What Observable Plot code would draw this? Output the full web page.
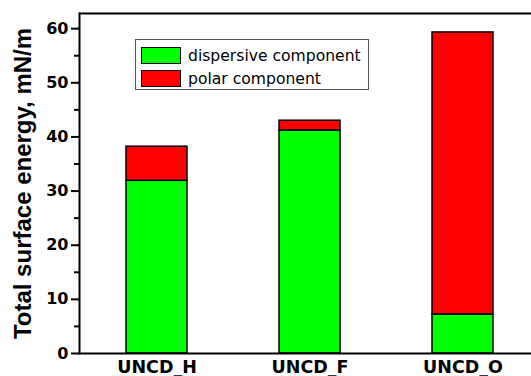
<!DOCTYPE html>
<html>
<head>
<meta charset="utf-8">
<script src="https://cdn.jsdelivr.net/npm/d3@7"></script>
<script src="https://cdn.jsdelivr.net/npm/@observablehq/plot@0.6"></script>
<style>
  html, body { margin: 0; padding: 0; background: #fff; overflow: hidden; }
  #wrap { position: relative; width: 531px; height: 376px; }
  #legend { position: absolute; left: 135px; top: 39px; width: 234px; height: 51px;
    border: 1px solid #555; box-sizing: border-box; background: #fff;
    font-family: "DejaVu Sans", sans-serif; font-size: 15.6px; color: #000; padding: 5px 0 0 5px; }
  .row { display: flex; align-items: center; height: 21px; margin-bottom: 2px; }
  .sw { width: 40px; height: 17px; box-sizing: border-box; border: 1.5px solid #000; margin-right: 7px; }
</style>
</head>
<body>
<div id="wrap"></div>
<script>
const categories = ["UNCD_H", "UNCD_F", "UNCD_O"];
const components = ["dispersive component", "polar component"];
const dispersive = [31.9, 41.2, 7.2];
const polar = [6.3, 1.8, 52.1];
const colors = ["#00ff00", "#ff0000"];
const yTicks = [0, 10, 20, 30, 40, 50, 60];
const yMinor = [5, 15, 25, 35, 45, 55];
const yTop = 62.8;
const yLabel = "Total surface energy, mN/m";

const data = [];
categories.forEach((c, i) => {
  data.push({category: c, component: components[0], value: dispersive[i]});
  data.push({category: c, component: components[1], value: polar[i]});
});

const chart = Plot.plot({
  width: 531,
  height: 376,
  marginLeft: 79,
  marginRight: 0,
  marginTop: 13,
  marginBottom: 23,
  style: {fontFamily: "DejaVu Sans", color: "#000", background: "#fff", overflow: "visible"},
  x: {domain: categories, range: [79, 540], paddingInner: 0.6, paddingOuter: 0.3, label: null},
  y: {domain: [0, yTop], label: null},
  color: {domain: components, range: colors},
  marks: [
    Plot.barY(data, Plot.stackY({x: "category", y: "value", fill: "component", order: components, stroke: "#000", strokeWidth: 1.5})),
    Plot.ruleY([0], {stroke: "#000", strokeWidth: 2}),
    Plot.ruleY([yTop], {stroke: "#000", strokeWidth: 2}),
    Plot.frame({anchor: "left", stroke: "#000", strokeWidth: 2}),
    Plot.axisY({ticks: yTicks, tickSize: 8, tickPadding: 3, strokeWidth: 2, fontSize: 16, fontWeight: "bold", label: null}),
    Plot.axisY({ticks: yMinor, tickSize: 5, strokeWidth: 2, text: null, label: null}),
    Plot.axisX({tickSize: 0, tickPadding: 7, fontSize: 17.5, fontWeight: "bold", label: null}),
    Plot.text([yLabel], {frameAnchor: "left", rotate: -90, dx: -56, textAnchor: "middle",
      fontSize: 24, fontWeight: "bold", fontFamily: "Liberation Sans"})
  ]
});

const wrap = document.getElementById("wrap");
wrap.appendChild(chart);
const legend = document.createElement("div");
legend.id = "legend";
components.forEach((c, i) => {
  const row = document.createElement("div");
  row.className = "row";
  const sw = document.createElement("div");
  sw.className = "sw";
  sw.style.background = colors[i];
  const t = document.createElement("span");
  t.textContent = c;
  row.appendChild(sw);
  row.appendChild(t);
  legend.appendChild(row);
});
wrap.appendChild(legend);
</script>
</body>
</html>
